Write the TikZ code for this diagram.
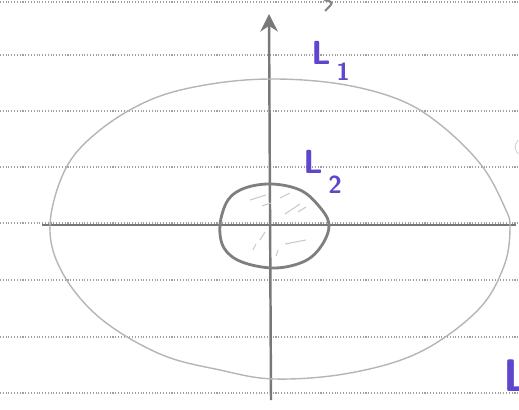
\documentclass[tikz,border=0pt]{standalone}
\usepackage{tikz}
\usetikzlibrary{arrows.meta}
\definecolor{pencil}{RGB}{120,120,120}
\definecolor{ink}{RGB}{95,70,205}
\definecolor{ruling}{RGB}{160,160,160}

\begin{document}
\begin{tikzpicture}[x=0.02cm, y=-0.02cm,
    every node/.style={font=\sffamily\bfseries\fontsize{19}{20}\selectfont, text=ink, inner sep=0pt}]
  \useasboundingbox (0,0) rectangle (519,409);
  % ruled paper
  \foreach \h in {2,55,111,167,223,280,337,393}
    \draw[ruling, densely dotted, line width=0.6pt] (0,\h) -- (519,\h);
  % axes
  \coordinate (xl) at (42,225);
  \coordinate (xr) at (516,225);
  \coordinate (yb) at (271,400);
  \coordinate (yt) at (269,14);
  \draw[pencil, line width=1.3pt] (xl) -- (xr);
  \draw[pencil, line width=1.4pt, -{Stealth[length=10pt,width=10pt]}] (yb) -- (yt);
  % outer curve
  \draw[pencil!55, line width=0.8pt] plot[smooth cycle, tension=0.6] coordinates {
    (50,225) (66,168) (100,130) (150,100) (205,85) (270,79) (340,84) (400,100)
    (442,126) (482,166) (505,208) (510,228) (504,266) (478,310) (420,352)
    (350,373) (275,379) (220,370) (160,354) (100,318) (62,272)};
  % inner curve
  \draw[pencil!95, line width=1.6pt] plot[smooth cycle, tension=0.6] coordinates {
    (220,225) (228,200) (245,188) (272,184) (300,190) (318,205) (329,224)
    (322,245) (305,261) (275,268) (242,262) (224,248)};
  % shading strokes
  \foreach \a/\b in {{250,200}/{266,195}, {280,198}/{290,193}, {285,214}/{300,204},
                     {298,212}/{306,207}, {260,240}/{265,232}, {253,250}/{256,244},
                     {285,244}/{306,240}, {276,256}/{278,250}, {262,206}/{271,203}}
    \draw[pencil!40, line width=0.6pt] (\a) -- (\b);
  % stray pencil marks
  \draw[pencil!90, line width=1.2pt] (324,0) .. controls (334,2) .. (325,11);
  \draw[pencil!30, line width=0.6pt] (518,140) .. controls (514,147) .. (518,154);
  % labels
  \node[anchor=west] (l1) at (311,61) {L\,\raisebox{-1.1ex}{\fontsize{14}{15}\selectfont 1}};
  \node[anchor=west] (l2) at (303,172) {L\,\raisebox{-1.3ex}{\fontsize{14}{15}\selectfont 2}};
  \node[anchor=west, font=\sffamily\bfseries\fontsize{26}{28}\selectfont] (l3) at (503,376) {L};
\end{tikzpicture}
\end{document}
